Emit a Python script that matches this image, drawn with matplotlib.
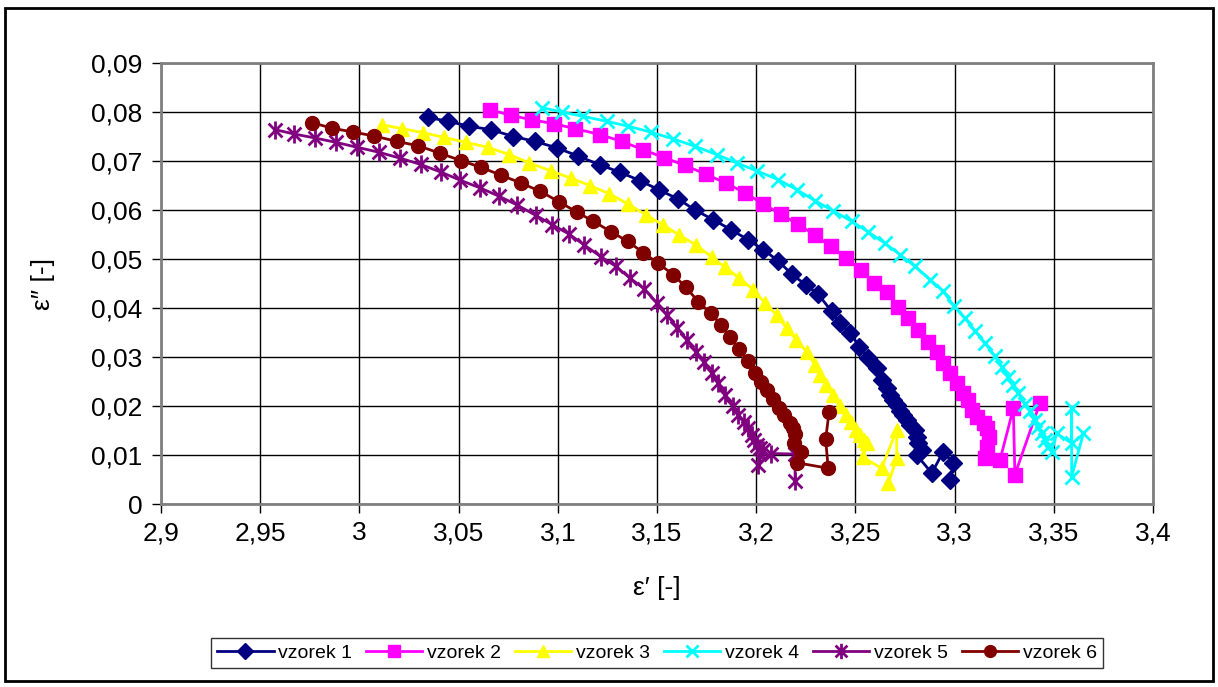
import matplotlib
matplotlib.use("Agg")
import matplotlib.pyplot as plt
from matplotlib.path import Path
from matplotlib.ticker import FuncFormatter, FixedLocator
from matplotlib.patches import Rectangle

plt.rcParams['font.family'] = ['Liberation Sans', 'DejaVu Sans']

series_names = ["vzorek 1", "vzorek 2", "vzorek 3", "vzorek 4", "vzorek 5", "vzorek 6"]

x1 = [3.0344, 3.0448, 3.0552, 3.0662, 3.0776, 3.0885, 3.0994, 3.1103, 3.1213, 3.1314, 3.1414,
      3.1510, 3.1604, 3.1692, 3.1784, 3.1872, 3.1960, 3.2036, 3.2111, 3.2179, 3.2251, 3.2313,
      3.2380, 3.2424, 3.2473, 3.2520, 3.2566, 3.2607, 3.2632, 3.2661, 3.2674, 3.2691, 3.2708,
      3.2725, 3.2742, 3.2758, 3.2775, 3.2800, 3.2809, 3.2817, 3.2834, 3.2809, 3.2885, 3.2943,
      3.2994, 3.2977]
y1 = [0.0789, 0.0781, 0.0771, 0.0764, 0.0750, 0.0740, 0.0727, 0.0710, 0.0692, 0.0677, 0.0660,
      0.0641, 0.0623, 0.0600, 0.0580, 0.0560, 0.0539, 0.0519, 0.0496, 0.0469, 0.0447, 0.0428,
      0.0393, 0.0369, 0.0349, 0.0321, 0.0298, 0.0277, 0.0253, 0.0236, 0.0223, 0.0212, 0.0202,
      0.0189, 0.0182, 0.0172, 0.0161, 0.0151, 0.0137, 0.0124, 0.0110, 0.0100, 0.0063, 0.0107,
      0.0083, 0.0049]

x2 = [3.0658, 3.0764, 3.0871, 3.0981, 3.1087, 3.1213, 3.1322, 3.1431, 3.1535, 3.1641, 3.1747,
      3.1846, 3.1944, 3.2036, 3.2123, 3.2209, 3.2296, 3.2375, 3.2452, 3.2526, 3.2594, 3.2658,
      3.2716, 3.2767, 3.2817, 3.2868, 3.2910, 3.2943, 3.2977, 3.3011, 3.3044, 3.3070, 3.3087,
      3.3112, 3.3146, 3.3163, 3.3171, 3.3163, 3.3154, 3.3229, 3.3296, 3.3304, 3.3430]
y2 = [0.0805, 0.0793, 0.0784, 0.0776, 0.0766, 0.0754, 0.0740, 0.0723, 0.0707, 0.0691, 0.0673,
      0.0655, 0.0635, 0.0612, 0.0592, 0.0571, 0.0549, 0.0526, 0.0502, 0.0478, 0.0451, 0.0432,
      0.0403, 0.0379, 0.0355, 0.0331, 0.0311, 0.0287, 0.0267, 0.0247, 0.0226, 0.0212, 0.0192,
      0.0178, 0.0165, 0.0155, 0.0137, 0.0117, 0.0093, 0.0090, 0.0195, 0.0060, 0.0206]

x3 = [3.0112, 3.0216, 3.0319, 3.0428, 3.0537, 3.0647, 3.0756, 3.0857, 3.0964, 3.1065, 3.1162,
      3.1260, 3.1355, 3.1444, 3.1529, 3.1612, 3.1695, 3.1776, 3.1843, 3.1915, 3.1986, 3.2044,
      3.2103, 3.2153, 3.2203, 3.2254, 3.2296, 3.2320, 3.2353, 3.2387, 3.2421, 3.2455, 3.2480,
      3.2505, 3.2522, 3.2542, 3.2556, 3.2539, 3.2632, 3.2708, 3.2708, 3.2666]
y3 = [0.0774, 0.0766, 0.0758, 0.0748, 0.0738, 0.0728, 0.0713, 0.0696, 0.0680, 0.0665, 0.0650,
      0.0633, 0.0612, 0.0590, 0.0570, 0.0549, 0.0529, 0.0504, 0.0483, 0.0461, 0.0437, 0.0410,
      0.0386, 0.0359, 0.0335, 0.0311, 0.0284, 0.0263, 0.0243, 0.0223, 0.0199, 0.0182, 0.0168,
      0.0151, 0.0141, 0.0131, 0.0124, 0.0095, 0.0073, 0.0151, 0.0093, 0.0042]

x4 = [3.0919, 3.1020, 3.1129, 3.1246, 3.1355, 3.1468, 3.1582, 3.1692, 3.1801, 3.1902, 3.2002,
      3.2111, 3.2207, 3.2296, 3.2389, 3.2481, 3.2565, 3.2649, 3.2725, 3.2800, 3.2876, 3.2943,
      3.2997, 3.3052, 3.3102, 3.3153, 3.3203, 3.3237, 3.3271, 3.3296, 3.3321, 3.3354, 3.3380,
      3.3405, 3.3422, 3.3439, 3.3456, 3.3472, 3.3489, 3.3515, 3.3590, 3.3590, 3.3590, 3.3649]
y4 = [0.0809, 0.0800, 0.0791, 0.0781, 0.0771, 0.0759, 0.0745, 0.0730, 0.0713, 0.0696, 0.0680,
      0.0662, 0.0641, 0.0619, 0.0598, 0.0577, 0.0555, 0.0532, 0.0509, 0.0485, 0.0458, 0.0434,
      0.0404, 0.0379, 0.0354, 0.0328, 0.0302, 0.0280, 0.0260, 0.0243, 0.0226, 0.0205, 0.0189,
      0.0172, 0.0158, 0.0144, 0.0131, 0.0117, 0.0107, 0.0144, 0.0124, 0.0195, 0.0056, 0.0144]

x5 = [2.9575, 2.9672, 2.9776, 2.9882, 2.9989, 3.0097, 3.0203, 3.0309, 3.0413, 3.0507, 3.0609,
      3.0704, 3.0796, 3.0889, 3.0972, 3.1056, 3.1132, 3.1216, 3.1293, 3.1364, 3.1436, 3.1498,
      3.1549, 3.1602, 3.1650, 3.1697, 3.1737, 3.1776, 3.1809, 3.1843, 3.1882, 3.1910, 3.1939,
      3.1960, 3.1977, 3.1989, 3.2002, 3.2019, 3.2036, 3.2011, 3.2073, 3.2196, 3.2196]
y5 = [0.0764, 0.0755, 0.0747, 0.0738, 0.0728, 0.0718, 0.0706, 0.0693, 0.0677, 0.0661, 0.0645,
      0.0628, 0.0610, 0.0589, 0.0570, 0.0551, 0.0529, 0.0505, 0.0485, 0.0461, 0.0439, 0.0411,
      0.0386, 0.0360, 0.0335, 0.0311, 0.0289, 0.0267, 0.0247, 0.0223, 0.0199, 0.0182, 0.0168,
      0.0155, 0.0141, 0.0131, 0.0121, 0.0114, 0.0110, 0.0080, 0.0103, 0.0102, 0.0046]

x6 = [2.9763, 2.9862, 2.9969, 3.0075, 3.0188, 3.0297, 3.0405, 3.0511, 3.0613, 3.0714, 3.0815,
      3.0912, 3.1005, 3.1095, 3.1179, 3.1267, 3.1352, 3.1431, 3.1503, 3.1582, 3.1646, 3.1708,
      3.1771, 3.1823, 3.1868, 3.1913, 3.1960, 3.1994, 3.2024, 3.2053, 3.2087, 3.2117, 3.2141,
      3.2171, 3.2188, 3.2196, 3.2191, 3.2224, 3.2207, 3.2363, 3.2350, 3.2367]
y6 = [0.0778, 0.0767, 0.0759, 0.0751, 0.0740, 0.0731, 0.0716, 0.0701, 0.0687, 0.0671, 0.0655,
      0.0638, 0.0617, 0.0596, 0.0577, 0.0556, 0.0536, 0.0513, 0.0492, 0.0468, 0.0442, 0.0413,
      0.0389, 0.0366, 0.0340, 0.0316, 0.0291, 0.0268, 0.0250, 0.0233, 0.0214, 0.0195, 0.0182,
      0.0165, 0.0155, 0.0143, 0.0125, 0.0107, 0.0084, 0.0073, 0.0132, 0.0187]

x_ticks = [2.9, 2.95, 3.0, 3.05, 3.1, 3.15, 3.2, 3.25, 3.3, 3.35, 3.4]
y_ticks = [0.0, 0.01, 0.02, 0.03, 0.04, 0.05, 0.06, 0.07, 0.08, 0.09]

colors = ["#000080", "#FF00FF", "#FFFF00", "#00FFFF", "#800080", "#800000"]

star = Path([(-1, -1), (1, 1), (-1, 1), (1, -1), (0, -1.3), (0, 1.3)],
            [Path.MOVETO, Path.LINETO, Path.MOVETO, Path.LINETO, Path.MOVETO, Path.LINETO])

styles = [
    dict(marker='D', markersize=9),
    dict(marker='s', markersize=9.5),
    dict(marker='^', markersize=10.5),
    dict(marker='x', markersize=10, markeredgewidth=2),
    dict(marker=star, markersize=13, markeredgewidth=2, markerfacecolor='none'),
    dict(marker='o', markersize=10),
]

xs = [x1, x2, x3, x4, x5, x6]
ys = [y1, y2, y3, y4, y5, y6]

fig = plt.figure(figsize=(12.18, 6.87), dpi=100)
ax = fig.add_axes([161 / 1218, 1 - 504 / 687, (1153 - 161) / 1218, (504 - 63) / 687])

for x, y, c, st, name in zip(xs, ys, colors, styles, series_names):
    kw = dict(st)
    kw.setdefault('markerfacecolor', c)
    ax.plot(x, y, color=c, linewidth=2, markeredgecolor=c, label=name, **kw)

ax.set_xlim(2.9, 3.4)
ax.set_ylim(0, 0.09)
ax.xaxis.set_major_locator(FixedLocator(x_ticks))
ax.yaxis.set_major_locator(FixedLocator(y_ticks))

def comma_fmt(v, pos):
    s = ('%.2f' % v).rstrip('0').rstrip('.')
    return s.replace('.', ',')

ax.xaxis.set_major_formatter(FuncFormatter(comma_fmt))
ax.yaxis.set_major_formatter(FuncFormatter(comma_fmt))
ax.tick_params(axis='both', labelsize=19, direction='out', length=6.5, width=1, color='#000000')
ax.tick_params(axis='y', pad=7)
ax.tick_params(axis='x', pad=6)
ax.grid(True, color='#000000', linewidth=1)
ax.set_axisbelow(True)
for s in ax.spines.values():
    s.set_color('#808080')
    s.set_linewidth(2)

ax.set_xlabel("ε\u2032 [-]", fontsize=19, labelpad=22)
ax.set_ylabel("ε\u2033 [-]", fontsize=19, labelpad=26)

leg = fig.legend(loc='center', bbox_to_anchor=(657 / 1218, 1 - 653 / 687), ncol=6,
                 fontsize=14, frameon=True, fancybox=False, edgecolor='#000000',
                 handlelength=2.9, handletextpad=0.25, columnspacing=0.7, borderpad=0.3,
                 markerscale=0.85)
leg.get_frame().set_linewidth(1)

fig.patches.append(Rectangle((5 / 1218, 6 / 687), 1208 / 1218, 673 / 687, transform=fig.transFigure,
                             fill=False, edgecolor='#000000', linewidth=2))

fig.savefig("out.png", dpi=100)
